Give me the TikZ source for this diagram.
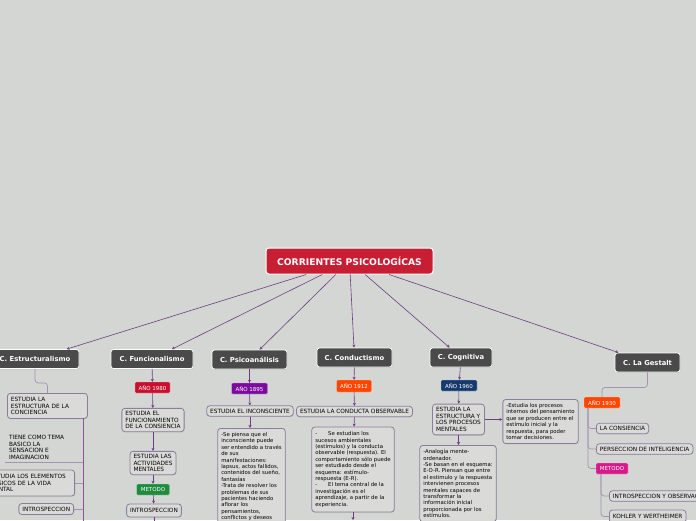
\documentclass[tikz,border=0pt]{standalone}
\usepackage{fontspec}
\setmainfont{DejaVu Sans}
\usetikzlibrary{arrows.meta,shadows}
\definecolor{bg}{RGB}{212,214,211}
\definecolor{rootred}{RGB}{200,30,52}
\definecolor{headgray}{RGB}{74,74,74}
\definecolor{lnpurple}{RGB}{110,60,130}
\definecolor{treepurple}{RGB}{165,145,180}
\definecolor{boxfill}{RGB}{218,219,217}
\definecolor{boxdraw}{RGB}{142,124,156}
\definecolor{yred}{RGB}{200,16,46}
\definecolor{ypurple}{RGB}{125,10,158}
\definecolor{yorange}{RGB}{255,69,0}
\definecolor{yblue}{RGB}{22,58,110}
\definecolor{mgreen}{RGB}{30,140,60}
\definecolor{mmag}{RGB}{214,26,138}
\tikzset{
  rootbox/.style={fill=rootred, draw=white, line width=1pt, rounded corners=3pt, text=white,
    font=\bfseries\fontsize{9.2}{11}\selectfont, minimum width=167pt, minimum height=26pt, inner sep=0pt},
  headbox/.style={fill=headgray, draw=white, line width=0.8pt, rounded corners=2.5pt, text=white,
    font=\bfseries\fontsize{6.8}{8}\selectfont, minimum height=19pt, inner sep=0pt,
    drop shadow={opacity=0.25, shadow xshift=0.6pt, shadow yshift=-0.8pt}},
  yearbox/.style={fill=#1, draw=white!70!#1, line width=0.4pt, rounded corners=1pt, text=white,
    font=\fontsize{5.5}{6.4}\selectfont, minimum height=11pt, inner sep=0pt},
  topic/.style={fill=boxfill, draw=boxdraw, line width=0.8pt, rounded corners=3pt,
    font=\fontsize{5.35}{6.4}\selectfont, align=left, inner xsep=3.5pt, inner ysep=3pt,
    drop shadow={opacity=0.2, shadow xshift=0.5pt, shadow yshift=-0.7pt}},
  caps/.style={font=\fontsize{5.8}{6.45}\selectfont},
  plaintext/.style={font=\fontsize{5.8}{6.45}\selectfont, align=left, inner xsep=4pt, inner ysep=2.5pt},
  conn/.style={draw=lnpurple, line width=0.6pt, -{Stealth[length=3pt,width=3pt]}},
  tree/.style={draw=treepurple, line width=0.7pt, rounded corners=3pt},
  trunk/.style={draw=lnpurple!85, line width=0.7pt},
}
\begin{document}
\begin{tikzpicture}[x=1pt,y=-1pt]
\useasboundingbox (0,0) rectangle (696,520);
\fill[bg] (0,0) rectangle (696,520);
\clip (0,0) rectangle (696,520);

% root and headers
\node[rootbox] (root) at (349.5,261) {CORRIENTES PSICOLOGÍCAS};
\node[headbox, minimum width=88pt] (e0) at (35,359) {C. Estructuralismo};
\node[headbox, minimum width=82pt] (f0) at (152,359) {C. Funcionalismo};
\node[headbox, minimum width=75pt] (p0) at (249.5,359.5) {C. Psicoanálisis};
\node[headbox, minimum width=75pt] (c0) at (354.5,357.5) {C. Conductismo};
\node[headbox, minimum width=62pt] (g0) at (461,357.5) {C. Cognitiva};
\node[headbox, minimum width=65pt] (s0) at (647.5,362.5) {C. La Gestalt};
\foreach \n in {e0,f0,p0,c0,g0,s0} \draw[conn] (root) -- (\n);

% Estructuralismo
\node[topic, caps, text width=73pt, anchor=north west, minimum height=25pt] (e1) at (7,393) {ESTUDIA LA\\ESTRUCTURA DE LA\\CONCIENCIA};
\draw[tree] (e0.south) -- ++(0,14) -| (e1.north);
\coordinate (et) at (83,418);
\coordinate (eb) at (83,525);
\draw[trunk] (et) -- (eb);
\node[plaintext, anchor=south west] (e2) at (5,462) {TIENE COMO TEMA\\BASICO LA\\SENSACION E\\IMAGINACION};
\draw[tree] (e2.south west) -- (e2.south west -| et);
\node[topic, caps, text width=81pt, anchor=east, minimum height=26pt] (e3) at (75,483) {ESTUDIA LOS ELEMENTOS\\BASICOS DE LA VIDA\\MENTAL};
\node[topic, caps, anchor=east, minimum height=11pt] (e4) at (74,509) {INTROSPECCION};
\draw[tree] (e3.east) -- (e3.east -| et);
\draw[tree] (e4.east) -- (e4.east -| et);

% Funcionalismo
\node[yearbox=yred, minimum width=35pt] (fy) at (152.5,387.5) {AÑO 1980};
\node[topic, caps] (f1) at (153,420) {ESTUDIA EL\\FUNCIONAMIENTO\\DE LA CONSIENCIA};
\node[topic, caps] (f2) at (153,463) {ESTUDIA LAS\\ACTIVIDADES\\MENTALES};
\node[yearbox=mgreen, minimum width=33pt] (fm) at (153,489.5) {METODO};
\node[topic, caps, minimum height=13pt] (f3) at (154,510.5) {INTROSPECCION};
\coordinate (fend) at (154,530);
\draw[conn] (f0) -- (fy);
\draw[conn] (fy) -- (f1);
\draw[conn] (f1) -- (f2);
\draw[conn] (f2) -- (fm);
\draw[conn] (fm) -- (f3);
\draw[lnpurple, line width=0.6pt] (f3) -- (fend);

% Psicoanalisis
\node[yearbox=ypurple, minimum width=36pt] (py) at (249.5,388.5) {AÑO 1895};
\node[topic, caps] (p1) at (250,411) {ESTUDIA EL INCONSCIENTE};
\node[topic, anchor=north, inner ysep=4pt] (p2) at (251.5,428) {-Se piensa que el\\inconsciente puede\\ser entendido a través\\de sus\\manifestaciones:\\lapsus, actos fallidos,\\contenidos del sueño,\\fantasías\\-Trata de resolver los\\problemas de sus\\pacientes haciendo\\aflorar los\\pensamientos,\\conflictos y deseos};
\draw[conn] (p0) -- (py);
\draw[conn] (py) -- (p1);
\draw[conn] (p1) -- (p1 |- p2.north);

% Conductismo
\node[yearbox=yorange, minimum width=35pt, minimum height=12pt] (cy) at (354,386) {AÑO 1912};
\node[topic, caps] (c1) at (354.5,411.5) {ESTUDIA LA CONDUCTA OBSERVABLE};
\node[topic, minimum height=85pt] (c2) at (353,469.5) {-\hspace{11pt}Se estudian los\\sucesos ambientales\\(estímulos) y la conducta\\observable (respuesta). El\\comportamiento sólo puede\\ser estudiado desde el\\esquema: estímulo-\\respuesta (E-R).\\-\hspace{11pt}El tema central de la\\investigación es el\\aprendizaje, a partir de la\\experiencia.};
\coordinate (cend) at (353,520);
\draw[conn] (c0) -- (cy);
\draw[conn] (cy) -- (c1);
\draw[conn] (c1) -- (c2);
\draw[conn] (c2) -- (cend);

% Cognitiva
\node[yearbox=yblue, minimum width=36pt] (gy) at (459,385.5) {AÑO 1960};
\node[topic, caps, inner ysep=3.5pt] (g1) at (458.5,419.5) {ESTUDIA LA\\ESTRUCTURA Y\\LOS PROCESOS\\MENTALES};
\node[topic, anchor=north, inner ysep=4pt] (g2) at (458,445) {-Analogía mente-\\ordenador.\\-Se basan en el esquema:\\E-O-R. Piensan que entre\\el estimulo y la respuesta\\intervienen procesos\\mentales capaces de\\transformar la\\información inicial\\proporcionada por los\\estímulos.};
\node[topic, inner ysep=4pt] (g3) at (540.5,421.5) {-Estudia los procesos\\internos del pensamiento\\que se producen entre el\\estímulo inicial y la\\respuesta, para poder\\tomar decisiones.};
\draw[conn] (g0) -- (gy);
\draw[conn] (gy) -- (g1);
\draw[conn] (g1) -- (g1 |- g2.north);
\draw[conn] (g1.east) -- (g1.east -| g3.west);

% Gestalt
\node[yearbox=yorange, minimum width=36pt] (sy) at (602,402.5) {AÑO 1930};
\node[topic, caps, anchor=west] (s1) at (596,428.5) {LA CONSIENCIA};
\node[topic, caps, anchor=west] (s2) at (596,449) {PERSECCION DE INTELIGENCIA};
\node[yearbox=mmag, minimum width=32pt] (sm) at (612,468.5) {METODO};
\node[topic, caps, anchor=west] (s3) at (609,496) {INTROSPECCION Y OBSERVACION};
\node[topic, caps, anchor=west, minimum height=13pt] (s4) at (609,516.5) {KOHLER Y WERTHEIMER};
\draw[tree] (s0.south) -- ++(0,15) -| (sy.north);
\coordinate (st) at (588,408);
\draw[tree] (st) |- (s1.west);
\draw[tree] (st) |- (s2.west);
\draw[tree] (st) |- (sm.west);
\coordinate (smt) at (601,474);
\draw[tree] (smt) |- (s3.west);
\draw[tree] (smt) |- (s4.west);
\end{tikzpicture}
\end{document}
